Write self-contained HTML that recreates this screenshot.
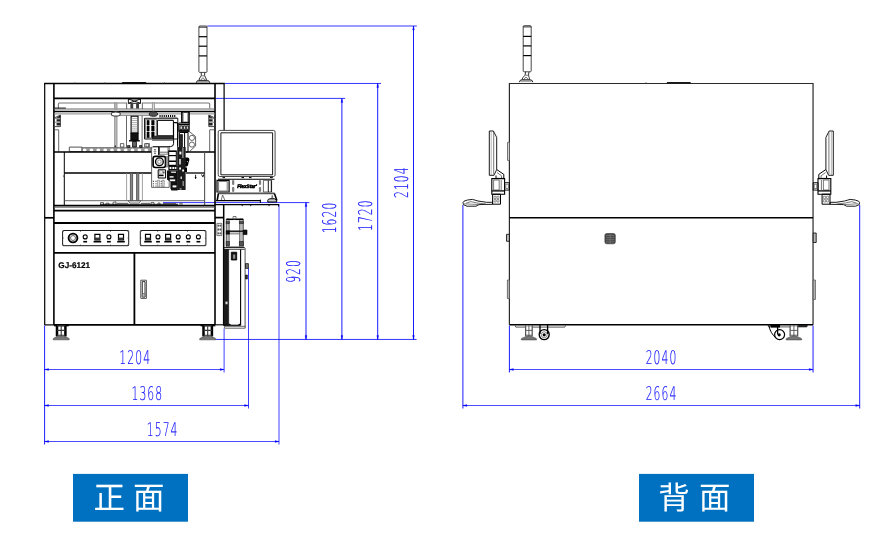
<!DOCTYPE html>
<html lang="zh">
<head>
<meta charset="utf-8">
<title>GJ-6121</title>
<style>
html,body{margin:0;padding:0;background:#fff;}
body{width:887px;height:546px;overflow:hidden;position:relative;font-family:"Liberation Sans","Noto Sans CJK JP",sans-serif;}
svg{position:absolute;left:0;top:0;display:block;will-change:transform;}
text{text-rendering:geometricPrecision;}
.k{fill:none;stroke:#000;stroke-width:1.1;}
.k2{fill:none;stroke:#000;stroke-width:1.5;}
.g{fill:none;stroke:#555;stroke-width:0.8;}
.g2{fill:none;stroke:#888;stroke-width:0.8;}
.kf{fill:#000;stroke:none;}
.gf{fill:#666;stroke:none;}
.b{fill:none;stroke:#0000ff;stroke-width:0.8;}
.bf{fill:#0000ff;stroke:#0000ff;stroke-width:0.3;}
.dim{font-family:"DejaVu Sans Light","DejaVu Sans","Liberation Sans",sans-serif;font-weight:200;font-size:18.9px;letter-spacing:1.9px;fill:#1010ff;stroke:#1010ff;stroke-width:0.2px;}
.lbl{font-family:"Liberation Sans","Noto Sans CJK JP","Noto Sans CJK SC",sans-serif;font-size:31.5px;fill:#fff;font-weight:400;}
.model{font-family:"Liberation Sans","DejaVu Sans",sans-serif;font-weight:700;font-size:8.3px;fill:#000;stroke:#000;stroke-width:0.2px;}
.brand{font-family:"Liberation Sans",sans-serif;font-weight:700;font-style:italic;font-size:5px;fill:#000;stroke:#000;stroke-width:0.55px;}
</style>
</head>
<body>
<svg width="887" height="546" viewBox="0 0 887 546">
<rect x="73" y="473.9" width="115" height="47.8" fill="#0070c0"/>
<rect x="639" y="473.9" width="115" height="47.8" fill="#0070c0"/>
<text class="lbl" x="93.4 125 133.1" y="508.6" xml:space="preserve">正 面</text>
<text class="lbl" x="658.3 690 699.1" y="508.6" xml:space="preserve">背 面</text>
<path class="b" d="M44.6 369.5L224.1 369.5" style="stroke-width:0.7;"/>
<path class="bf" d="M44.6 369.5L48.6 368.6V370.4Z"/>
<path class="bf" d="M224.1 369.5L220.1 368.6V370.4Z"/>
<text class="dim" transform="translate(135.24 363.6) scale(0.57 1)" text-anchor="middle">1204</text>
<path class="b" d="M44.6 405.5L248.5 405.5" style="stroke-width:0.7;"/>
<path class="bf" d="M44.6 405.5L48.6 404.6V406.4Z"/>
<path class="bf" d="M248.5 405.5L244.5 404.6V406.4Z"/>
<text class="dim" transform="translate(147.34 399.6) scale(0.57 1)" text-anchor="middle">1368</text>
<path class="b" d="M44.6 441.5L279 441.5" style="stroke-width:0.7;"/>
<path class="bf" d="M44.6 441.5L48.6 440.6V442.4Z"/>
<path class="bf" d="M279 441.5L275 440.6V442.4Z"/>
<text class="dim" transform="translate(162.64 435.6) scale(0.57 1)" text-anchor="middle">1574</text>
<path class="b" d="M44.6 325.5L44.6 444.5" style="stroke-width:0.9;"/>
<path class="b" d="M224.1 328.5L224.1 372.5" style="stroke-width:0.75;"/>
<path class="b" d="M248.5 268L248.5 408.5" style="stroke-width:0.75;"/>
<path class="b" d="M279 204L279 444.5" style="stroke-width:0.75;"/>
<path class="b" d="M215.5 339.45L416.5 339.45" style="stroke-width:0.8;"/>
<path class="b" d="M306 202.6L306 339.45" style="stroke-width:0.9;"/>
<path class="b" d="M163 202.6L309.3 202.6" style="stroke-width:0.8;"/>
<path class="bf" d="M306 202.6L305.1 206.6H306.9Z"/>
<path class="bf" d="M306 339.45L305.1 335.45H306.9Z"/>
<text class="dim" transform="translate(300.3 270.96) rotate(-90) scale(0.57 1)" text-anchor="middle">920</text>
<path class="b" d="M341.9 98.4L341.9 339.45" style="stroke-width:0.9;"/>
<path class="b" d="M215.5 98.4L345.2 98.4" style="stroke-width:0.8;"/>
<path class="bf" d="M341.9 98.4L341.0 102.4H342.79999999999995Z"/>
<path class="bf" d="M341.9 339.45L341.0 335.45H342.79999999999995Z"/>
<text class="dim" transform="translate(336.2 217.46) rotate(-90) scale(0.57 1)" text-anchor="middle">1620</text>
<path class="b" d="M377.7 83.46L377.7 339.45" style="stroke-width:0.9;"/>
<path class="b" d="M224.5 83.46L381.0 83.46" style="stroke-width:0.8;"/>
<path class="bf" d="M377.7 83.46L376.8 87.46H378.59999999999997Z"/>
<path class="bf" d="M377.7 339.45L376.8 335.45H378.59999999999997Z"/>
<text class="dim" transform="translate(372.0 215.16) rotate(-90) scale(0.57 1)" text-anchor="middle">1720</text>
<path class="b" d="M413.5 26L413.5 339.45" style="stroke-width:0.9;"/>
<path class="b" d="M207.3 26L416.8 26" style="stroke-width:0.8;"/>
<path class="bf" d="M413.5 26L412.6 30H414.4Z"/>
<path class="bf" d="M413.5 339.45L412.6 335.45H414.4Z"/>
<text class="dim" transform="translate(407.8 182.16) rotate(-90) scale(0.57 1)" text-anchor="middle">2104</text>
<path class="b" d="M509.4 369.5L813.05 369.5" style="stroke-width:0.7;"/>
<path class="bf" d="M509.4 369.5L513.4 368.6V370.4Z"/>
<path class="bf" d="M813.05 369.5L809.05 368.6V370.4Z"/>
<text class="dim" transform="translate(661.54 363.6) scale(0.57 1)" text-anchor="middle">2040</text>
<path class="b" d="M462.9 405.5L859.7 405.5" style="stroke-width:0.7;"/>
<path class="bf" d="M462.9 405.5L466.9 404.6V406.4Z"/>
<path class="bf" d="M859.7 405.5L855.7 404.6V406.4Z"/>
<text class="dim" transform="translate(661.54 399.6) scale(0.57 1)" text-anchor="middle">2664</text>
<path class="b" d="M509.4 325.5L509.4 372.5" style="stroke-width:0.9;"/>
<path class="b" d="M813.05 325.5L813.05 372.5" style="stroke-width:0.9;"/>
<path class="b" d="M462.9 205L462.9 408.5" style="stroke-width:0.9;"/>
<path class="b" d="M859.7 205L859.7 408.5" style="stroke-width:0.9;"/>
<rect class="k" x="198.9" y="26" width="8.1" height="46.4" rx="0.9" style="stroke-width:0.9;stroke:#333"/>
<path class="k" d="M198.9 27.2L207 27.2" style="stroke-width:0.8;"/>
<path class="k" d="M198.9 36.7L207 36.7" style="stroke-width:1.2;"/>
<path class="k" d="M198.9 46.2L207 46.2" style="stroke-width:1.2;"/>
<path class="k" d="M198.9 55.9L207 55.9" style="stroke-width:1.2;"/>
<path class="k" d="M201.25 72.4L201.25 75.80000000000001Q199.35 77.9 198.95 80.4M204.64999999999998 72.4L204.64999999999998 75.80000000000001Q206.14999999999998 77.9 206.54999999999998 80.4" style="stroke-width:1;stroke:#333" />
<path class="g" d="M201.25 75.80000000000001H204.64999999999998M200.75 80.4Q202.95 75.4 205.14999999999998 80.4" style="stroke-width:0.8;"/>
<path class="k" d="M196.35 82.80000000000001Q196.54999999999998 80.60000000000001 198.54999999999998 80.4H207.35Q209.54999999999998 80.60000000000001 209.75 82.80000000000001" style="stroke-width:1;stroke:#222;fill:#ddd" />
<path class="g" d="M197.95 81.7L207.95 81.7" style="stroke-width:0.6;"/>
<path class="k" d="M44.7 325V83.5M224.1 83.5V130.4" style="stroke-width:1.2;"/>
<path class="k" d="M44.1 83.5L224.7 83.5" style="stroke-width:1.3;"/>
<path class="k" d="M44.7 324.9L54 324.9" style="stroke-width:1.2;"/>
<path class="k" d="M54 324.9L215 324.9" style="stroke-width:1.6;"/>
<path class="k" d="M215 324.8L224 324.8" style="stroke-width:1.1;"/>
<path class="k" d="M53.9 83.5L53.9 325" style="stroke-width:1.6;"/>
<path class="k" d="M215 83.5L215 325" style="stroke-width:1.6;"/>
<path class="k" d="M223.7 205L223.7 325" style="stroke-width:1.5;"/>
<path class="k" d="M54 98.3L215 98.3" style="stroke-width:1.7;"/>
<path class="k" d="M122.2 82.7L146.2 82.7" style="stroke-width:1.2;"/>
<path class="g" d="M74.5 82.8L75.5 82.8"/>
<path class="g" d="M104.3 82.8L105.3 82.8"/>
<path class="g" d="M164 82.8L165 82.8"/>
<path class="g" d="M58.4 108.5V104Q58.4 103 59.4 103H126.6V109 M142.4 109V103H208.7Q209.7 103 209.7 104V108.5" style="stroke-width:1.1;stroke:#777" />
<path class="k" d="M54 108.1L65.8 108.1" style="stroke-width:1;"/>
<path class="k" d="M128.4 99H140.5V103.3H128.4Z" style="stroke-width:0.9;fill:#fff;"/>
<path class="k" d="M128.4 99L140.5 103.3M140.5 99L128.4 103.3" style="stroke-width:0.9;"/>
<path class="kf" d="M130.4 103.4H133.2V108.6H130.4Z" style="fill:#3a3a3a;"/>
<path class="kf" d="M136.1 103.4H139V108.6H136.1Z" style="fill:#3a3a3a;"/>
<path class="g" d="M54 109L215 109" style="stroke-width:0.9;"/>
<path class="k" d="M54 111.5L215 111.5" style="stroke-width:1.6;"/>
<path class="g2" d="M54 113.9L111.5 113.9" style="stroke-width:1;"/>
<path class="g2" d="M157 113.9L182 113.9" style="stroke-width:1;"/>
<path class="g2" d="M188.6 113.9L215 113.9" style="stroke-width:1;"/>
<path class="g2" d="M114.6 102.8H117V109H114.6Z" style="stroke-width:0.8;fill:#bbb;"/>
<path class="g2" d="M152.4 102.8H154.4V111H152.4Z" style="stroke-width:0.8;fill:#ddd;"/>
<path class="g2" d="M114.6 115H117V151.5H114.6Z" style="stroke-width:0.8;fill:#bbb;"/>
<path class="g" d="M119 112.9H150V115.2H119Z" style="stroke-width:0.9;fill:#fff;"/>
<ellipse cx="115.8" cy="114" rx="4.5" ry="2.1" fill="#fff" stroke="#444" stroke-width="1.1"/>
<ellipse cx="153.4" cy="114.1" rx="4.2" ry="2.2" fill="#555" stroke="#222" stroke-width="1"/>
<path class="k" d="M54.6 117.8L60.4 115V126.6H54.6" style="stroke-width:0.9;stroke:#333" />
<path class="kf" d="M56 117.8L60.4 115.6V117.8Z"/>
<path class="kf" d="M56.6 119.2H60.4V121.4H56.6ZM56.6 123H60.4V125.4H56.6Z" style="fill:#222" />
<path class="g" d="M54.6 118.6H60.4M54.6 122.2H60.4" style="stroke-width:0.7;"/>
<path class="k" d="M214.6 117.8L208.8 115V126.6H214.6" style="stroke-width:0.9;stroke:#333" />
<path class="kf" d="M213.2 117.8L208.8 115.6V117.8Z"/>
<path class="kf" d="M212.6 119.2H208.8V121.4H212.6ZM212.6 123H208.8V125.4H212.6Z" style="fill:#222" />
<path class="g" d="M214.6 118.6H208.8M214.6 122.2H208.8" style="stroke-width:0.7;"/>
<path class="g" d="M55 129.8H58.7V151.8" style="stroke-width:0.9;"/>
<path class="g" d="M214 129.8H209.7V151.8" style="stroke-width:0.9;"/>
<path class="g" d="M126.5 115.6L126.5 151.5" style="stroke-width:0.9;"/>
<path class="g" d="M142.1 115.6L142.1 151.5" style="stroke-width:0.9;"/>
<path class="k" d="M131.1 116.2H138V133H131.1Z" style="stroke-width:1.1;fill:#fff;"/>
<path class="g2" d="M132 118.4L137.2 118.4" style="stroke-width:0.7;"/>
<path class="g2" d="M132 120.5L137.2 120.5" style="stroke-width:0.7;"/>
<path class="g2" d="M132 122.6L137.2 122.6" style="stroke-width:0.7;"/>
<path class="g2" d="M132 124.7L137.2 124.7" style="stroke-width:0.7;"/>
<path class="g2" d="M132 126.8L137.2 126.8" style="stroke-width:0.7;"/>
<path class="g2" d="M132 128.9L137.2 128.9" style="stroke-width:0.7;"/>
<path class="g2" d="M132 131.0L137.2 131.0" style="stroke-width:0.7;"/>
<path class="k" d="M130.8 133H138.2V140.2H130.8Z" style="stroke-width:0.8;fill:#111;"/>
<path class="k" d="M129 140.8L139.8 140.8" style="stroke-width:1.4;"/>
<path class="k" d="M144.5 118.3H177.8V139H144.5Z" style="stroke-width:0.9;"/>
<path class="g" d="M145.6 119.3H156.3V138H145.6Z" style="stroke-width:0.8;"/>
<path class="k" d="M147 120.3H149.2V125H147Z" style="stroke-width:0.5;fill:#000;"/>
<path class="k" d="M151.6 120.3H154.2V125H151.6Z" style="stroke-width:0.5;fill:#000;"/>
<path class="k" d="M147 126H149.2V131H147Z" style="stroke-width:0.5;fill:#000;"/>
<path class="k" d="M151.6 126H154.2V131H151.6Z" style="stroke-width:0.5;fill:#000;"/>
<path class="k" d="M147 132H149.2V137.5H147Z" style="stroke-width:0.5;fill:#000;"/>
<path class="k" d="M151.6 132H154.2V137.5H151.6Z" style="stroke-width:0.5;fill:#000;"/>
<path class="k" d="M157.4 120.4H173.4V135.8H157.4Z" style="stroke-width:1;"/>
<path class="g" d="M157.4 118.9L173.4 118.9" style="stroke-width:0.9;"/>
<path class="k" d="M152.5 136.2H173.4V138.8H152.5Z" style="stroke-width:0.6;fill:#333;"/>
<path class="kf" d="M159.5 115H160.6V117H159.5Z"/>
<path class="kf" d="M161.6 115H162.7V117H161.6Z"/>
<path class="kf" d="M163.7 115H164.8V117H163.7Z"/>
<path class="kf" d="M165.8 115H166.9V117H165.8Z"/>
<path class="kf" d="M167.9 115H169.0V117H167.9Z"/>
<path class="kf" d="M170.0 115H171.1V117H170.0Z"/>
<path class="kf" d="M172.1 115H173.2V117H172.1Z"/>
<path class="kf" d="M174.2 115H175.3V117H174.2Z"/>
<path class="g" d="M159 117.4L177 117.4" style="stroke-width:0.6;"/>
<path class="k" d="M173.6 122.6H176.4Q177.6 122.6 177.6 123.8V146.8" style="stroke-width:1.1;"/>
<path class="k" d="M173.6 124V143.5Q173.6 146.6 170.5 146.6H153" style="stroke-width:1;"/>
<path class="g" d="M152 140.4L173.5 140.4" style="stroke-width:0.8;"/>
<path class="g" d="M146 143.5H149.5V147H146Z" style="stroke-width:0.8;"/>
<path class="k" d="M181.9 112H189V122.6H181.9Z" style="stroke-width:1.6;fill:#fff;"/>
<path class="g2" d="M183.3 112.5L183.3 122.4" style="stroke-width:0.8;"/>
<path class="g2" d="M187.6 112.5L187.6 122.4" style="stroke-width:0.8;"/>
<path class="k" d="M178.8 123H189.2V130.2H178.8Z" style="stroke-width:1;fill:#ddd;"/>
<path class="k" d="M178.8 124.6L189.2 124.6" style="stroke-width:1.2;"/>
<path class="k" d="M180 126H182.5V129.3H180Z" style="stroke-width:0.7;"/>
<path class="k" d="M183.5 126H185.6V129.3H183.5Z" style="stroke-width:0.7;"/>
<path class="k" d="M186.4 126H188.4V129.3H186.4Z" style="stroke-width:0.7;"/>
<path class="k" d="M178.8 130.2H189.2V131.9H178.8Z" style="stroke-width:0.6;fill:#111;"/>
<path class="k" d="M179.4 132.5H188V152H179.4Z" style="stroke-width:1;"/>
<path class="k" d="M180.2 134.5H182.5V150H180.2Z" style="stroke-width:0.6;fill:#222;"/>
<path class="k" d="M184.6 133L184.6 152" style="stroke-width:1;"/>
<path class="g" d="M188.8 131.2L195.6 136.5V146L189.5 151.5" style="stroke-width:0.9;"/>
<circle class="g" cx="191.9" cy="137.9" r="2.6" style="stroke-width:0.9;"/>
<circle class="g" cx="191.9" cy="144.6" r="2.6" style="stroke-width:0.9;"/>
<path class="g" d="M69.3 147.1H82V151.6H69.3Z" style="stroke-width:1;"/>
<path class="g" d="M82 147.6H151V151.4H82Z" style="stroke-width:0.7;fill:#999;"/>
<ellipse cx="84.6" cy="150" rx="1.9" ry="1.5" fill="#fff"/>
<ellipse cx="91.45" cy="150" rx="1.9" ry="1.5" fill="#fff"/>
<ellipse cx="98.3" cy="150" rx="1.9" ry="1.5" fill="#fff"/>
<ellipse cx="105.15" cy="150" rx="1.9" ry="1.5" fill="#fff"/>
<ellipse cx="112.0" cy="150" rx="1.9" ry="1.5" fill="#fff"/>
<ellipse cx="118.85" cy="150" rx="1.9" ry="1.5" fill="#fff"/>
<ellipse cx="125.7" cy="150" rx="1.9" ry="1.5" fill="#fff"/>
<ellipse cx="132.55" cy="150" rx="1.9" ry="1.5" fill="#fff"/>
<ellipse cx="139.4" cy="150" rx="1.9" ry="1.5" fill="#fff"/>
<ellipse cx="146.25" cy="150" rx="1.9" ry="1.5" fill="#fff"/>
<ellipse cx="153.1" cy="150" rx="1.9" ry="1.5" fill="#fff"/>
<path class="g" d="M120.4 143.6H123.8V147H120.4Z" style="stroke-width:0.9;"/>
<path class="g" d="M144.6 143.6H148.4V147H144.6Z" style="stroke-width:0.9;"/>
<circle class="kf" cx="115.2" cy="146.3" r="0.7"/>
<path class="k" d="M132.6 141.5H136.4V147H132.6Z" style="stroke-width:0.8;fill:#666;"/>
<path class="k" d="M127.5 145.5H130V147.4H127.5Z" style="stroke-width:0.6;fill:#555;"/>
<path class="k" d="M139.5 145.5H142V147.4H139.5Z" style="stroke-width:0.6;fill:#555;"/>
<path class="k2" d="M54 152L152 152"/>
<path class="k2" d="M186 152L215 152"/>
<path class="k" d="M64.3 152L64.3 205.4" style="stroke-width:1;"/>
<path class="g" d="M204.6 152L204.6 205.4" style="stroke-width:1.1;"/>
<path class="k" d="M64.3 173L152 173" style="stroke-width:1.3;"/>
<path class="k" d="M186 173L204.6 173" style="stroke-width:1.3;"/>
<circle class="kf" cx="63.4" cy="176.1" r="0.5"/>
<path class="g2" d="M126.6 173L126.6 200.5" style="stroke-width:0.8;"/>
<path class="g2" d="M142.4 173L142.4 200.5" style="stroke-width:0.8;"/>
<path class="g" d="M130.4 173.3H132.6V200.4H130.4Z" style="stroke-width:0.9;fill:#888;"/>
<path class="g" d="M136.6 173.3H138.8V200.4H136.6Z" style="stroke-width:0.9;fill:#888;"/>
<path class="g" d="M64.3 200.7L204.6 200.7" style="stroke-width:0.9;"/>
<path class="g" d="M128 200.8H141L139 203H130Z" style="stroke-width:0.8;"/>
<path class="g" d="M100.5 205V202.6H103.5V205M106 205V203.2H109V205M113 205V202.4L116 201.8V205M117 203.3H128M141 203.3H150M151 205V202.6H154V205M158 205V203H160V205M163 203.6H176M180 205V203H182V205" style="stroke-width:0.9;"/>
<path class="k" d="M100.5 204.3L178 204.3" style="stroke-width:0.9;"/>
<path class="k" d="M195.6 174.8V179M194.8 177.5H196.4M201.5 174.5L203 177.2M203.5 174.5V176.5" style="stroke-width:0.9;"/>
<path class="k" d="M54 205.6L215 205.6" style="stroke-width:1.6;"/>
<path class="g" d="M54 207.3L215 207.3" style="stroke-width:0.8;"/>
<path class="k" d="M54 210.6L215 210.6" style="stroke-width:1.7;"/>
<path class="k" d="M44.7 217.8L54 217.8" style="stroke-width:1.7;"/>
<path class="k" d="M215 217.6L223.6 217.6" style="stroke-width:1.7;"/>
<path class="k" d="M54 223L215 223" style="stroke-width:1.8;"/>
<path class="k" d="M54 252.9L215 252.9" style="stroke-width:1.8;"/>
<path class="k" d="M134.4 252.9L134.4 325" style="stroke-width:1.8;"/>
<path class="g" d="M140.8 280.2H146.4V298.4H140.8Z" style="stroke-width:1;"/>
<path class="k" d="M142.3 281.6H145V297H142.3Z" style="stroke-width:0.8;"/>
<path class="g" d="M142.3 293.6H145V297H142.3Z" style="stroke-width:0.7;fill:#bbb;"/>
<text class="model" x="58.3" y="268" textLength="31.8" lengthAdjust="spacingAndGlyphs">GJ-6121</text>
<rect class="k" x="62.6" y="230.5" width="66.1" height="15.2" rx="0.8" style="stroke-width:0.9"/>
<circle class="kf" cx="63.5" cy="231.2" r="0.45"/>
<circle class="kf" cx="63.5" cy="245" r="0.45"/>
<circle class="kf" cx="127.8" cy="231.2" r="0.45"/>
<circle class="kf" cx="127.8" cy="245" r="0.45"/>
<circle class="kf" cx="80.5" cy="231.2" r="0.45"/>
<circle class="kf" cx="80.5" cy="245" r="0.45"/>
<circle class="kf" cx="110.5" cy="231.2" r="0.45"/>
<circle class="kf" cx="110.5" cy="245" r="0.45"/>
<circle class="kf" cx="63.3" cy="238" r="0.4"/>
<circle class="kf" cx="128.0" cy="238" r="0.4"/>
<circle class="k" cx="73" cy="238" r="4.4" style="stroke-width:1.9;"/>
<circle class="g" cx="73" cy="238" r="2.5" style="stroke-width:0.9;"/>
<circle class="k" cx="85.2" cy="236.9" r="2" style="stroke-width:1.1;"/>
<path class="k" d="M83.3 241.7L87.1 241.7" style="stroke-width:1.6;"/>
<path class="k" d="M94.9 234.4H99.9V239.8H94.9Z" style="stroke-width:1.2;fill:#fff;"/>
<path class="kf" d="M94.9 237.6H99.9V239.8H94.9Z" style="fill:#333;"/>
<path class="k" d="M93.6 241.7L101.2 241.7" style="stroke-width:1.6;"/>
<circle class="k" cx="108.9" cy="236.9" r="2" style="stroke-width:1.1;"/>
<path class="k" d="M107.0 241.7L110.8 241.7" style="stroke-width:1.6;"/>
<path class="k" d="M118.5 234.4H123.5V239.8H118.5Z" style="stroke-width:1.2;fill:#fff;"/>
<path class="kf" d="M118.5 237.6H123.5V239.8H118.5Z" style="fill:#333;"/>
<path class="k" d="M117.2 241.7L124.8 241.7" style="stroke-width:1.6;"/>
<rect class="k" x="140.3" y="230.5" width="65.6" height="15.2" rx="0.8" style="stroke-width:0.9"/>
<circle class="kf" cx="141.2" cy="231.2" r="0.45"/>
<circle class="kf" cx="141.2" cy="245" r="0.45"/>
<circle class="kf" cx="205.0" cy="231.2" r="0.45"/>
<circle class="kf" cx="205.0" cy="245" r="0.45"/>
<circle class="kf" cx="157.8" cy="231.2" r="0.45"/>
<circle class="kf" cx="157.8" cy="245" r="0.45"/>
<circle class="kf" cx="187.4" cy="231.2" r="0.45"/>
<circle class="kf" cx="187.4" cy="245" r="0.45"/>
<circle class="kf" cx="141.0" cy="238" r="0.4"/>
<circle class="kf" cx="205.2" cy="238" r="0.4"/>
<path class="k" d="M145.5 234.4H150.5V239.8H145.5Z" style="stroke-width:1.2;fill:#fff;"/>
<path class="kf" d="M145.5 237.6H150.5V239.8H145.5Z" style="fill:#333;"/>
<path class="k" d="M144.2 241.7L151.8 241.7" style="stroke-width:1.6;"/>
<circle class="k" cx="158" cy="236.9" r="2" style="stroke-width:1.1;"/>
<path class="k" d="M156.1 241.7L159.9 241.7" style="stroke-width:1.6;"/>
<path class="k" d="M165.6 234.4H170.6V239.8H165.6Z" style="stroke-width:1.2;fill:#fff;"/>
<path class="kf" d="M165.6 237.6H170.6V239.8H165.6Z" style="fill:#333;"/>
<path class="k" d="M164.3 241.7L171.9 241.7" style="stroke-width:1.6;"/>
<circle class="k" cx="178.2" cy="236.9" r="2" style="stroke-width:1.1;"/>
<path class="k" d="M176.3 241.7L180.1 241.7" style="stroke-width:1.6;"/>
<circle class="k" cx="188.3" cy="236.9" r="2" style="stroke-width:1.1;"/>
<path class="k" d="M186.4 241.7L190.2 241.7" style="stroke-width:1.6;"/>
<circle class="k" cx="198.4" cy="236.9" r="2" style="stroke-width:1.1;"/>
<path class="k" d="M196.5 241.7L200.3 241.7" style="stroke-width:1.6;"/>
<path class="g" d="M216.9 223.4H221.8V235.6H216.9Z" style="stroke-width:0.8;"/>
<path class="g" d="M217.8 224.9H219V226.3H217.8Z" style="stroke-width:0.5;fill:#666;"/>
<path class="g" d="M219.8 224.9H221V226.3H219.8Z" style="stroke-width:0.5;fill:#666;"/>
<path class="g" d="M217.8 228.8H219V230.2H217.8Z" style="stroke-width:0.5;fill:#666;"/>
<path class="g" d="M219.8 228.8H221V230.2H219.8Z" style="stroke-width:0.5;fill:#666;"/>
<path class="g" d="M217.8 232.7H219V234.1H217.8Z" style="stroke-width:0.5;fill:#666;"/>
<path class="g" d="M219.8 232.7H221V234.1H219.8Z" style="stroke-width:0.5;fill:#666;"/>
<path class="k" d="M57.0 325H65.4V336.6H57.0Z" style="stroke-width:0.1;fill:#fff;"/>
<path class="k" d="M54.1 325.7L68.8 325.7" style="stroke-width:1.3;"/>
<path class="k" d="M57.0 325V336.6M65.4 325V336.6" style="stroke-width:2.5;stroke:#000" />
<path class="k" d="M61.2 325V336.6M57.0 330.4H65.4M57.0 335.2H65.4M57.0 325.8H65.4" style="stroke-width:1.1;stroke:#333" />
<path class="g" d="M53.2 339.8V338.8Q53.5 338.0 55.2 337.6Q59.2 336.2 61.2 336.0Q63.2 336.2 67.2 337.6Q68.9 338.0 69.2 338.8V339.8Z" style="stroke-width:0.6;fill:#777;stroke:#444" />
<path class="k" d="M203.5 325H211.9V336.6H203.5Z" style="stroke-width:0.1;fill:#fff;"/>
<path class="k" d="M200.6 325.7L215.3 325.7" style="stroke-width:1.3;"/>
<path class="k" d="M203.5 325V336.6M211.9 325V336.6" style="stroke-width:2.5;stroke:#000" />
<path class="k" d="M207.7 325V336.6M203.5 330.4H211.9M203.5 335.2H211.9M203.5 325.8H211.9" style="stroke-width:1.1;stroke:#333" />
<path class="g" d="M199.7 339.8V338.8Q200.0 338.0 201.7 337.6Q205.7 336.2 207.7 336.0Q209.7 336.2 213.7 337.6Q215.4 338.0 215.7 338.8V339.8Z" style="stroke-width:0.6;fill:#777;stroke:#444" />
<rect class="k" x="218.2" y="130.4" width="56.9" height="46.1" rx="1.6" style="stroke-width:0.9;stroke:#333;fill:#fff"/>
<path class="k" d="M220.9 132.8H272.6V174.8H220.9Z" style="stroke-width:0.9;"/>
<path class="k" d="M222.5 177.6L225 177.6" style="stroke-width:1;"/>
<path class="k" d="M241.5 177.6L244 177.6" style="stroke-width:1;"/>
<path class="k" d="M249 177.6L251.5 177.6" style="stroke-width:1;"/>
<path class="k" d="M270 177.6L272.8 177.6" style="stroke-width:1;"/>
<path class="k" d="M218 179.3L274.5 179.3" style="stroke-width:1.1;"/>
<path class="k" d="M217 180.3H229.1V192H217Z" style="stroke-width:1.2;"/>
<path class="g" d="M218.6 181.4H227.2V191H218.6Z" style="stroke-width:0.8;"/>
<path class="g" d="M263.4 180.3H271.6V192H263.4Z" style="stroke-width:0.9;"/>
<path class="k" d="M268.3 180.5L268.3 192" style="stroke-width:0.9;"/>
<path class="k" d="M271.3 180.5L271.3 192" style="stroke-width:0.9;"/>
<path class="g" d="M232.6 180.6H233.8V184.4H232.6Z" style="stroke-width:0.7;fill:#999;"/>
<path class="g" d="M232.6 187.4H233.8V191.4H232.6Z" style="stroke-width:0.7;fill:#999;"/>
<path class="g" d="M259.4 180.6H260.6V184.4H259.4Z" style="stroke-width:0.7;fill:#999;"/>
<path class="g" d="M259.4 187.4H260.6V191.4H259.4Z" style="stroke-width:0.7;fill:#999;"/>
<text class="brand" x="237.2" y="188.2" textLength="19.6" lengthAdjust="spacingAndGlyphs">FlexStar'</text>
<path class="g" d="M218 193.4L274.6 193.4" style="stroke-width:1.6;"/>
<path class="k" d="M218.4 193.5L217.2 200.4M274.4 193.5L276.9 200.4" style="stroke-width:1.6;"/>
<path class="g" d="M221.3 200L222.6 195L224.8 200" style="stroke-width:0.8;"/>
<path class="g" d="M271.5 200L272.2 195.4L273.4 200" style="stroke-width:0.8;"/>
<path class="k" d="M216 200.7L260.4 200.7" style="stroke-width:1.2;"/>
<path class="k" d="M260.4 199.6L260.4 203" style="stroke-width:1;"/>
<path class="k" d="M267.8 202V200.4Q268 198.8 270 198.8H274.5Q276.6 199 276.8 202Z" style="stroke-width:1;fill:#ccc" />
<path class="k" d="M215 204.6L279 204.6" style="stroke-width:1.3;"/>
<path class="k" d="M242.2 204.6L242.2 206.2" style="stroke-width:0.9;"/>
<path class="k" d="M250.7 204.6L250.7 206.2" style="stroke-width:0.9;"/>
<path class="k" d="M269 204.6L269 206.2" style="stroke-width:0.9;"/>
<path class="k" d="M278.6 204.6L278.6 206.5" style="stroke-width:1;"/>
<path class="g" d="M226.4 219H243.2V246.8H226.4Z" style="stroke-width:0.8;"/>
<path class="g" d="M226.4 219H229.2V246.8H226.4Z" style="stroke-width:0.8;fill:#bbb;"/>
<path class="g" d="M239.6 219H243.2V246.8H239.6Z" style="stroke-width:0.8;fill:#bbb;"/>
<path class="k" d="M226.4 219.4L243.2 219.4" style="stroke-width:1.3;"/>
<path class="k" d="M226.2 221.6H229.4V223.6H226.2Z" style="stroke-width:0.5;fill:#555;"/>
<path class="k" d="M226.2 241.5H229.4V245.5H226.2Z" style="stroke-width:0.5;fill:#555;"/>
<path class="k" d="M239.4 221.6H243.4V223.6H239.4Z" style="stroke-width:0.5;fill:#555;"/>
<path class="k" d="M239.4 241.5H243.4V245.5H239.4Z" style="stroke-width:0.5;fill:#555;"/>
<path class="g" d="M233.1 216.5H236V219H233.1Z" style="stroke-width:0.8;"/>
<path class="g" d="M229.2 231.2H239.6V233.9H229.2Z" style="stroke-width:0.7;fill:#ccc;"/>
<path class="k" d="M226.4 231.2L243.2 231.2" style="stroke-width:1.2;"/>
<path class="k" d="M243.2 230H247V234.6H243.2Z" style="stroke-width:0.6;fill:#111;"/>
<path class="k" d="M226.2 230.8H229.4V234.2H226.2Z" style="stroke-width:0.6;fill:#111;"/>
<path class="k" d="M224.1 247.7L244.8 247.7" style="stroke-width:1;"/>
<path class="g" d="M224.1 249.5L244.8 249.5" style="stroke-width:0.9;"/>
<path class="k" d="M223.4 249.5H228.7V325.3H223.4Z" style="stroke-width:0.5;fill:#1a1a1a;"/>
<path class="g" d="M225.4 301.6H227.6V304.2H225.4Z" style="stroke-width:0.4;fill:#eee;"/>
<path class="k" d="M240.6 249.5L240.6 325.3" style="stroke-width:1.1;"/>
<path class="g" d="M245.1 248L245.1 327.8" style="stroke-width:1;"/>
<path class="k" d="M231.3 252.2H236.7V260H231.3Z" style="stroke-width:0.8;fill:#111;"/>
<path class="g" d="M233 254.5H235.2V258.8H233Z" style="stroke-width:0.4;fill:#999;"/>
<path class="k" d="M245.5 263.6H248.4V268.4H245.5Z" style="stroke-width:0.7;fill:#777;"/>
<path class="k" d="M245.5 275H247.4V279H245.5Z" style="stroke-width:0.6;fill:#333;"/>
<path class="k" d="M223.6 325.3L240.7 325.3" style="stroke-width:1.2;"/>
<path class="kf" d="M228.7 324.9H231L229.6 323.6ZM240.2 324.9H238L239.4 323.6Z"/>
<path class="g" d="M224.4 326.3H245.1V328.2H224.4Z" style="stroke-width:0.9;fill:#fff;"/>
<path class="g" d="M151.6 147H169.2V187.4H151.6Z" style="stroke-width:0.9;fill:#fff;"/>
<path class="g" d="M159.4 147.2H168V154.2H159.4Z" style="stroke-width:0.8;fill:#fff;"/>
<path class="k" d="M158.8 147L158.8 155" style="stroke-width:1.3;"/>
<path class="g" d="M159.4 152.2L168 152.2" style="stroke-width:0.9;"/>
<circle class="kf" cx="155" cy="149.7" r="0.7"/>
<circle class="kf" cx="155" cy="153.2" r="0.7"/>
<path class="g" d="M153.6 151.4L156.4 151.4" style="stroke-width:0.7;"/>
<rect class="k" x="153.1" y="156.3" width="12.4" height="11.2" rx="2.2" style="stroke-width:1.7;fill:#fff"/>
<circle class="k" cx="159.4" cy="161.8" r="3.9" style="stroke-width:1.3;fill:#ddd;"/>
<circle class="g" cx="159.4" cy="161.8" r="1.7" style="stroke-width:0.5;fill:#fff;"/>
<path class="kf" d="M168.2 150.4H176.8V166H168.2Z"/>
<path class="kf" d="M169.2 152H175.8V155H169.2Z" style="fill:#fff;"/>
<path class="kf" d="M169.2 156.2H175.8V160.5H169.2Z" style="fill:#fff;"/>
<path class="kf" d="M169.2 162H175.8V164.8H169.2Z" style="fill:#fff;"/>
<path class="g" d="M166.2 156.5H167.8V167H166.2Z" style="stroke-width:0.6;fill:#bbb;"/>
<path class="kf" d="M177.2 147H185.6V190H177.2Z" style="fill:#1c1c1c;"/>
<path class="kf" d="M179.4 151.6H181.4V154.4H179.4Z" style="fill:#fff;"/>
<path class="kf" d="M182.3 147.5H183.5V158H182.3Z" style="fill:#aaa;"/>
<path class="kf" d="M179 159H181V164.5H179Z" style="fill:#bbb;"/>
<path class="kf" d="M179.2 167.5H181V169.5H179.2Z" style="fill:#fff;"/>
<path class="kf" d="M182.2 169.5H184V171.5H182.2Z" style="fill:#fff;"/>
<path class="kf" d="M180.5 176.5H182V179H180.5Z" style="fill:#ccc;"/>
<path class="kf" d="M182.5 181H184V186H182.5Z" style="fill:#888;"/>
<path class="kf" d="M185.2 157.4H188Q189.6 158 189.4 160L188.6 162.6L188 165.6Q187 166.8 185.2 166.4Z"/>
<circle class="kf" cx="187.4" cy="161.6" r="0.6" style="fill:#ccc;"/>
<path class="kf" d="M184.8 167.5H187V172H184.8Z"/>
<path class="k" d="M158.2 169.8H165.6V178H158.2Z" style="stroke-width:1;"/>
<path class="g" d="M159.2 170.8H162.6V173.2H159.2Z" style="stroke-width:0.5;fill:#fff;"/>
<path class="kf" d="M158.6 174.6H163.6V176.2H158.6Z"/>
<path class="kf" d="M163 171.5H164.6V173.5H163Z" style="fill:#555;"/>
<path class="kf" d="M168.4 166H177.4V170.2H168.4ZM167 170.4H177.6V190.6H171.4L170.4 188.4V182L167 179.6Z" style="fill:#111" />
<path class="kf" d="M169.6 167H171.4V169H169.6Z" style="fill:#fff;"/>
<path class="kf" d="M172.4 167H174.4V169H172.4Z" style="fill:#fff;"/>
<path class="kf" d="M175 167H176.4V169H175Z" style="fill:#eee;"/>
<path class="kf" d="M170.4 171.4H176V173H171.6Z" style="fill:#ccc" />
<path class="kf" d="M169.6 176.2H173.6V177.6H169.6Z" style="fill:#fff;"/>
<path class="kf" d="M169.8 179.4H175.2V181.2H169.8Z" style="fill:#fff;"/>
<path class="kf" d="M172.6 185.4H176.4V187.4H172.6Z" style="fill:#fff;"/>
<path class="kf" d="M179.6 188.2H181.6V189.6H179.6Z" style="fill:#999;"/>
<circle class="kf" cx="167.6" cy="182.6" r="0.6" style="fill:#ddd;"/>
<path class="kf" d="M152.85 180.85H153.95V181.95H152.85Z" style="fill:#444;"/>
<path class="kf" d="M155.45 180.85H156.55V181.95H155.45Z" style="fill:#444;"/>
<path class="kf" d="M158.05 180.85H159.15V181.95H158.05Z" style="fill:#444;"/>
<path class="kf" d="M160.65 180.85H161.75V181.95H160.65Z" style="fill:#444;"/>
<path class="kf" d="M163.25 180.85H164.35V181.95H163.25Z" style="fill:#444;"/>
<path class="kf" d="M152.85 183.25H153.95V184.35H152.85Z" style="fill:#444;"/>
<path class="kf" d="M155.45 183.25H156.55V184.35H155.45Z" style="fill:#444;"/>
<path class="kf" d="M158.05 183.25H159.15V184.35H158.05Z" style="fill:#444;"/>
<path class="kf" d="M160.65 183.25H161.75V184.35H160.65Z" style="fill:#444;"/>
<path class="kf" d="M163.25 183.25H164.35V184.35H163.25Z" style="fill:#444;"/>
<path class="kf" d="M152.85 185.45H153.95V186.55H152.85Z" style="fill:#444;"/>
<path class="kf" d="M155.45 185.45H156.55V186.55H155.45Z" style="fill:#444;"/>
<path class="kf" d="M158.05 185.45H159.15V186.55H158.05Z" style="fill:#444;"/>
<path class="kf" d="M160.65 185.45H161.75V186.55H160.65Z" style="fill:#444;"/>
<path class="kf" d="M163.25 185.45H164.35V186.55H163.25Z" style="fill:#444;"/>
<path class="g" d="M157.6 180.2H159.4V186.8H157.6Z" style="stroke-width:0.5;fill:#eee;"/>
<path class="g" d="M162.2 180.2H164V186.8H162.2Z" style="stroke-width:0.5;fill:#eee;"/>
<rect class="k" x="523.2" y="25.7" width="8.0" height="46.1" rx="0.9" style="stroke-width:0.9;stroke:#333"/>
<path class="k" d="M523.2 26.9L531.2 26.9" style="stroke-width:0.8;"/>
<path class="k" d="M523.2 36.4L531.2 36.4" style="stroke-width:1.2;"/>
<path class="k" d="M523.2 45.9L531.2 45.9" style="stroke-width:1.2;"/>
<path class="k" d="M523.2 55.6L531.2 55.6" style="stroke-width:1.2;"/>
<path class="k" d="M525.5 71.8L525.14 75.2Q522.4 77.3 522.0 79.8M528.9000000000001 71.8L528.5400000000001 75.2Q529.2 77.3 529.6 79.8" style="stroke-width:1;stroke:#333" />
<path class="g" d="M525.5 75.2H528.9000000000001M523.8 79.8Q526.0 74.8 528.2 79.8" style="stroke-width:0.8;"/>
<path class="k" d="M519.4 82.2Q519.6 80.0 521.6 79.8H530.4Q532.6 80.0 532.8 82.2" style="stroke-width:1;stroke:#222;fill:#ddd" />
<path class="g" d="M521.0 81.1L531.0 81.1" style="stroke-width:0.6;"/>
<path class="k" d="M509.4 324.7V83.5H813.05V324.7" style="stroke-width:1.2;stroke:#2a2a2a" />
<path class="k" d="M509.4 324.7L813.05 324.7" style="stroke-width:1.4;"/>
<path class="k" d="M509.4 217.8L813.05 217.8" style="stroke-width:1.6;"/>
<path class="k" d="M666.9 82.7L690.7 82.7" style="stroke-width:1.2;"/>
<path class="g" d="M645.5 82.7L646.5 82.7"/>
<rect x="604.9" y="233.5" width="10.4" height="10.3" rx="1.8" fill="#4a4a4a" stroke="#333" style="stroke-width:0.6"/>
<path class="g2" d="M606 235.5L614.4 235.5" style="stroke-width:0.5;"/>
<path class="g2" d="M606 237.6L614.4 237.6" style="stroke-width:0.5;"/>
<path class="g2" d="M606 239.7L614.4 239.7" style="stroke-width:0.5;"/>
<path class="g2" d="M606 241.8L614.4 241.8" style="stroke-width:0.5;"/>
<path class="g2" d="M610.1 234L610.1 243.4" style="stroke-width:0.5;"/>
<path class="k" d="M506.5 234.3H509.4V241.3H506.5Z" style="stroke-width:0.8;fill:#bbb;"/>
<path class="k" d="M813.2 233H816.2V242.5H813.2Z" style="stroke-width:0.8;fill:#bbb;"/>
<path class="g" d="M507.4 280H509.4V298.5H507.4Z" style="stroke-width:0.8;fill:#bbb;"/>
<path class="g" d="M813.2 280H815.4V299.5H813.2Z" style="stroke-width:0.8;fill:#bbb;"/>
<path class="g" d="M507.5 142.3H509.4V160.4H507.5Z" style="stroke-width:0.8;fill:#ddd;"/>
<path class="k" d="M489.3 131L493.4 131L496.7 137.4L496.7 169.5L494 175.3L489.3 175.3Z" style="stroke-width:0.9;"/>
<path class="g" d="M493.7 132L493.7 174.5" style="stroke-width:0.8;"/>
<path class="g2" d="M491.2 131.5L491.2 175" style="stroke-width:0.6;"/>
<path class="k" d="M496.7 169.5L503.8 174.4L503.8 178.4L496 178.4L496 175.5" style="stroke-width:1;"/>
<path class="g" d="M497 172.5L501.5 175.8L501.5 178" style="stroke-width:0.8;"/>
<path class="k" d="M491.8 178.6L504.6 178.6L504.6 194.2L491.8 194.2Z" style="stroke-width:1.1;"/>
<path class="g" d="M493.6 180L499.2 180L499.2 190L493.6 190Z" style="stroke-width:0.8;"/>
<path class="g" d="M501.2 180L501.2 190" style="stroke-width:0.8;"/>
<path class="k" d="M491.8 190.9L504.6 190.9" style="stroke-width:1.3;"/>
<path class="k" d="M504.6 182.7L509.4 182.7L509.4 190.1L504.6 190.1Z" style="stroke-width:0.9;"/>
<path class="g" d="M505.8 184.2L508.4 184.2L508.4 188.6L505.8 188.6Z" style="stroke-width:0.8;"/>
<path class="k" d="M492.6 194.2L500.5 194.2L500.5 204.2L492.6 204.2Z" style="stroke-width:1;"/>
<path class="g" d="M494 196.2L496 196.2L496 198.6L494 198.6Z" style="stroke-width:0.6;"/>
<path class="g" d="M497 196.2L499 196.2L499 198.6L497 198.6Z" style="stroke-width:0.6;"/>
<path class="g" d="M494 199.6L496 199.6L496 202L494 202Z" style="stroke-width:0.6;"/>
<path class="g" d="M497 199.6L499 199.6L499 202L497 202Z" style="stroke-width:0.6;"/>
<path class="k" d="M464 201.2L467.5 200L472.5 199.4L478 201L486.5 202.3L492.6 202.3L492.6 204.3L479 204.6L476 206.2L467 206.2L463.4 204.6L463 202.6Z" style="stroke-width:0.9;"/>
<path class="g" d="M466 203.2L471 201.6L477 203L486 204" style="stroke-width:0.8;"/>
<path class="g" d="M464 203.8L479 204.6" style="stroke-width:0.7;"/>
<path class="k" d="M833.3 131L829.2 131L825.9 137.4L825.9 169.5L828.6 175.3L833.3 175.3Z" style="stroke-width:0.9;"/>
<path class="g" d="M828.9 132L828.9 174.5" style="stroke-width:0.8;"/>
<path class="g2" d="M831.4 131.5L831.4 175" style="stroke-width:0.6;"/>
<path class="k" d="M825.9 169.5L818.8 174.4L818.8 178.4L826.6 178.4L826.6 175.5" style="stroke-width:1;"/>
<path class="g" d="M825.6 172.5L821.1 175.8L821.1 178" style="stroke-width:0.8;"/>
<path class="k" d="M830.8 178.6L818.0 178.6L818.0 194.2L830.8 194.2Z" style="stroke-width:1.1;"/>
<path class="g" d="M829.0 180L823.4 180L823.4 190L829.0 190Z" style="stroke-width:0.8;"/>
<path class="g" d="M821.4 180L821.4 190" style="stroke-width:0.8;"/>
<path class="k" d="M830.8 190.9L818.0 190.9" style="stroke-width:1.3;"/>
<path class="k" d="M818.0 182.7L813.2 182.7L813.2 190.1L818.0 190.1Z" style="stroke-width:0.9;"/>
<path class="g" d="M816.8 184.2L814.2 184.2L814.2 188.6L816.8 188.6Z" style="stroke-width:0.8;"/>
<path class="k" d="M830.0 194.2L822.1 194.2L822.1 204.2L830.0 204.2Z" style="stroke-width:1;"/>
<path class="g" d="M828.6 196.2L826.6 196.2L826.6 198.6L828.6 198.6Z" style="stroke-width:0.6;"/>
<path class="g" d="M825.6 196.2L823.6 196.2L823.6 198.6L825.6 198.6Z" style="stroke-width:0.6;"/>
<path class="g" d="M828.6 199.6L826.6 199.6L826.6 202L828.6 202Z" style="stroke-width:0.6;"/>
<path class="g" d="M825.6 199.6L823.6 199.6L823.6 202L825.6 202Z" style="stroke-width:0.6;"/>
<path class="k" d="M858.6 201.2L855.1 200L850.1 199.4L844.6 201L836.1 202.3L830.0 202.3L830.0 204.3L843.6 204.6L846.6 206.2L855.6 206.2L859.2 204.6L859.6 202.6Z" style="stroke-width:0.9;"/>
<path class="g" d="M856.6 203.2L851.6 201.6L845.6 203L836.6 204" style="stroke-width:0.8;"/>
<path class="g" d="M858.6 203.8L843.6 204.6" style="stroke-width:0.7;"/>
<path class="g" d="M515 325.3L515.8 327.1H564.8L565.6 325.3" style="stroke-width:0.9;stroke:#444" />
<path class="g" d="M767.8 325.3L768.6 326.9H806.8L807.6 325.3" style="stroke-width:0.9;stroke:#444" />
<path class="kf" d="M796 325.2H807.6L806.8 326.8H796Z"/>
<path class="k" d="M525.6 325H532.2V336.3H525.6Z" style="stroke-width:0.1;fill:#fff;"/>
<path class="k" d="M525.6 325V336.3M532.2 325V336.3" style="stroke-width:1.2;stroke:#555" />
<path class="k" d="M528.9 325V336.3M525.6 330.4H532.2M525.6 335.2H532.2M525.6 325.8H532.2" style="stroke-width:0.9;stroke:#555" />
<path class="g" d="M521.3 339.9V338.9Q521.6 338.1 523.3 337.7Q526.9 335.9 528.9 335.7Q530.9 335.9 534.5 337.7Q536.2 338.1 536.5 338.9V339.9Z" style="stroke-width:0.6;fill:#777;stroke:#444" />
<path class="k" d="M790.1 325H797.7V336.3H790.1Z" style="stroke-width:0.1;fill:#fff;"/>
<path class="k" d="M790.1 325V336.3M797.7 325V336.3" style="stroke-width:1.2;stroke:#555" />
<path class="k" d="M793.9 325V336.3M790.1 330.4H797.7M790.1 335.2H797.7M790.1 325.8H797.7" style="stroke-width:0.9;stroke:#555" />
<path class="g" d="M786.1 339.9V338.9Q786.4 338.1 788.1 337.7Q791.9 335.9 793.9 335.7Q795.9 335.9 799.7 337.7Q801.4 338.1 801.7 338.9V339.9Z" style="stroke-width:0.6;fill:#777;stroke:#444" />
<path class="k" d="M540 325V334M547.6 325V334" style="stroke-width:1.3;"/>
<circle class="k" cx="544.2" cy="334.6" r="5" style="stroke-width:1.4;"/>
<circle class="kf" cx="544.2" cy="334.8" r="1.6"/>
<circle class="g" cx="544.2" cy="334.8" r="3" style="stroke-width:0.7;"/>
<path class="k" d="M768.8 325Q770 333 776.5 338.6" style="stroke-width:1;"/>
<path class="kf" d="M770 325H780V327.6H771Z"/>
<path class="k" d="M777.6 325L777.6 334.5" style="stroke-width:1.3;"/>
<circle class="k" cx="779.6" cy="334.6" r="5" style="stroke-width:1.2;"/>
<circle class="kf" cx="779.2" cy="334.8" r="1.6"/>
</svg>
</body>
</html>
